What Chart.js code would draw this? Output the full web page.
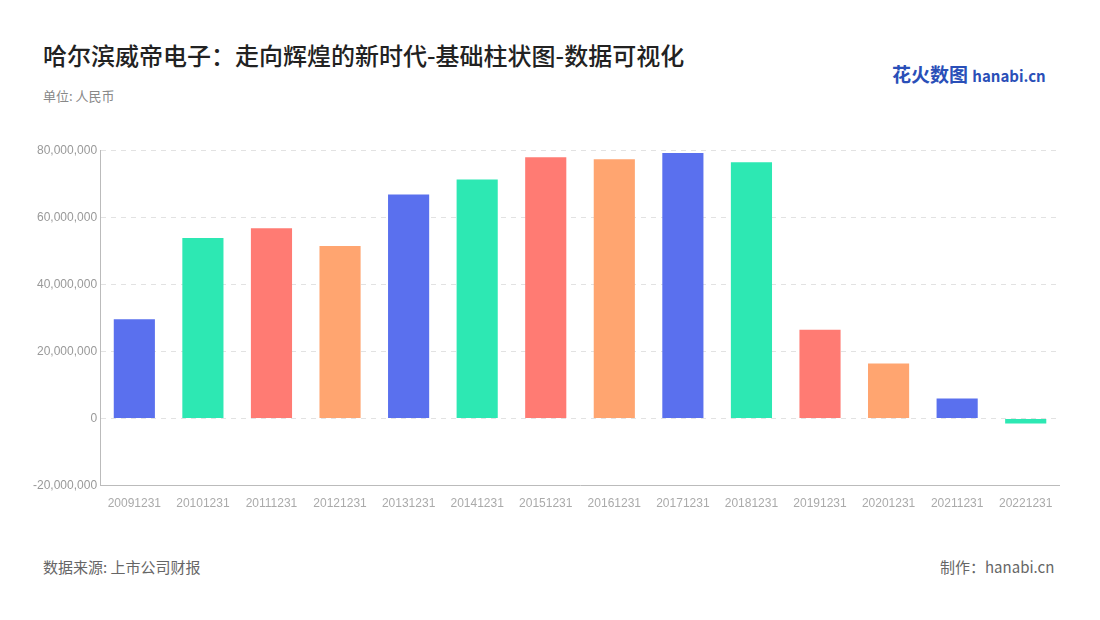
<!DOCTYPE html>
<html><head><meta charset="utf-8">
<script src="https://cdn.jsdelivr.net/npm/chart.js@4"></script>
<style>
body{margin:0;width:1100px;height:620px;background:#fff;font-family:"Noto Sans CJK SC","Noto Sans",sans-serif;position:relative;overflow:hidden}
.t{position:absolute;white-space:nowrap}
#box{position:absolute;left:30px;top:140px;width:1030px;height:374px}
</style></head><body>
<div class="t" style="left:43px;top:37px;font-size:24px;color:#222;font-weight:500">哈尔滨威帝电子：走向辉煌的新时代-基础柱状图-数据可视化</div>
<div class="t" style="left:43px;top:86px;font-size:13px;color:#888">单位: 人民币</div>
<div class="t" style="left:892px;top:60px;font-size:19px;color:#2a4fb8;font-weight:700">花火数图 <span style="font-size:15px">hanabi.cn</span></div>
<div class="t" style="left:43px;top:556px;font-size:15px;color:#666">数据来源: 上市公司财报</div>
<div class="t" style="left:940px;top:556px;font-size:15px;color:#666">制作：hanabi.cn</div>
<div id="box"><canvas id="c"></canvas></div>
<script>
const categories=["20091231","20101231","20111231","20121231","20131231","20141231","20151231","20161231","20171231","20181231","20191231","20201231","20211231","20221231"];
const values=[29600000,53800000,56700000,51400000,66800000,71300000,77900000,77300000,79200000,76400000,26500000,16400000,6000000,-1500000];
const palette=["#5A70EE","#2DE8B3","#FF7B73","#FFA570"];
new Chart(document.getElementById('c'),{type:'bar',
data:{labels:categories,datasets:[{data:values,backgroundColor:categories.map((_,i)=>palette[i%4]),categoryPercentage:0.6,barPercentage:1}]},
options:{responsive:true,maintainAspectRatio:false,animation:false,
layout:{padding:{top:5,right:0}},
plugins:{legend:{display:false},tooltip:{enabled:false}},
scales:{
x:{grid:{display:false},border:{color:'#bbb'},ticks:{color:'#aaa',font:{size:12},maxRotation:0,autoSkip:false}},
y:{min:-20000000,max:80000000,ticks:{stepSize:20000000,color:'#999',font:{size:12},callback:v=>v.toLocaleString('en-US')},
grid:{color:'#e2e2e2',drawTicks:false},border:{color:'#bbb',dash:[5,5]}}}}});
</script></body></html>
